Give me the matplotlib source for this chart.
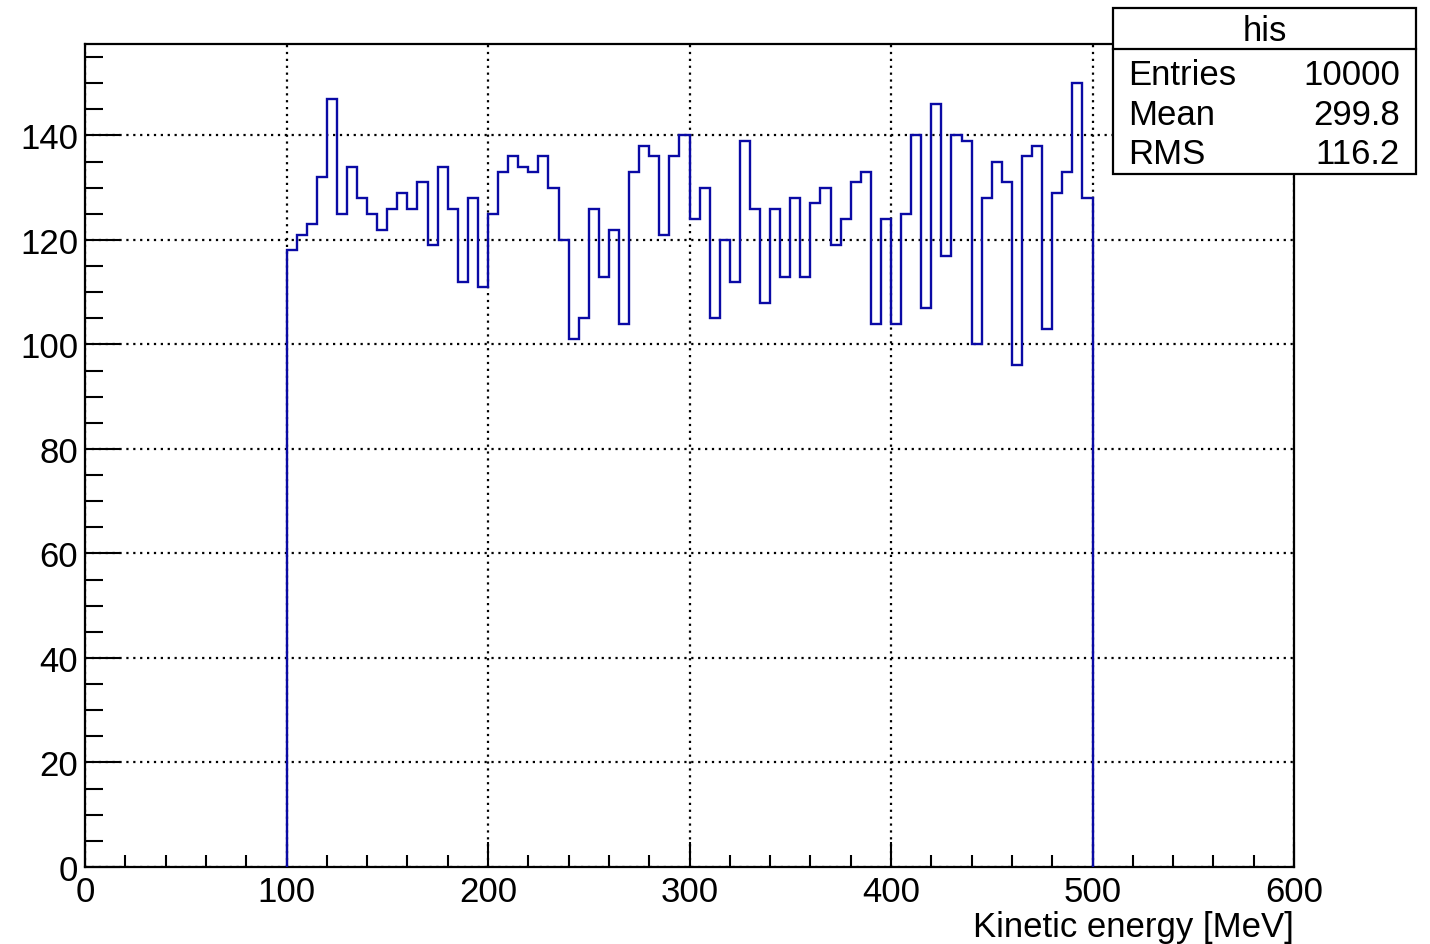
import numpy as np
import matplotlib
matplotlib.use("Agg")
import matplotlib.pyplot as plt
from matplotlib.ticker import MultipleLocator
from matplotlib.patches import Rectangle

# ---- data ----
bin_lo = 100.0
bin_hi = 500.0
n_bins = 80
counts = [118, 121, 123, 132, 147, 125, 134, 128, 125, 122,
          126, 129, 126, 131, 119, 134, 126, 112, 128, 111,
          125, 133, 136, 134, 133, 136, 130, 120, 101, 105,
          126, 113, 122, 104, 133, 138, 136, 121, 136, 140,
          124, 130, 105, 120, 112, 139, 126, 108, 126, 113,
          128, 113, 127, 130, 119, 124, 131, 133, 104, 124,
          104, 125, 140, 107, 146, 117, 140, 139, 100, 128,
          135, 131, 96, 136, 138, 103, 129, 133, 150, 128]
x_label = "Kinetic energy [MeV]"
stats_title = "his"
stats_names = ["Entries", "Mean", "RMS"]
stats_values = ["10000", "299.8", "116.2"]

edges = np.linspace(bin_lo, bin_hi, n_bins + 1)

plt.rcParams['font.family'] = ['Liberation Sans', 'DejaVu Sans']
FS = 25

fig = plt.figure(figsize=(14.3, 9.45), dpi=100)
ax = fig.add_axes([85/1430, 1-868/945, (1294-85)/1430, (868-45)/945])

ax.stairs(counts, edges, baseline=0, fill=False, color='#0a0aa5', linewidth=1.7, zorder=3)

ax.set_xlim(0, 600)
ax.set_ylim(0, 157.5)

ax.xaxis.set_major_locator(MultipleLocator(100))
ax.xaxis.set_minor_locator(MultipleLocator(20))
ax.yaxis.set_major_locator(MultipleLocator(20))
ax.yaxis.set_minor_locator(MultipleLocator(5))

ax.tick_params(axis='both', which='both', direction='in', top=False, right=False,
               labelsize=FS, width=1.5, color='black')
ax.tick_params(axis='x', which='major', length=18, pad=6)
ax.tick_params(axis='x', which='minor', length=9)
ax.tick_params(axis='y', which='major', length=25, pad=5)
ax.tick_params(axis='y', which='minor', length=13)

for s in ax.spines.values():
    s.set_linewidth(1.6)

ax.grid(True, which='major', color='black', linestyle=(0, (1, 2.1)), linewidth=1.6, zorder=1)
ax.set_axisbelow(True)

ax.set_xlabel(x_label, fontsize=FS)
ax.xaxis.set_label_coords(1.0, (868-937)/823)
ax.xaxis.label.set_horizontalalignment('right')
ax.xaxis.label.set_verticalalignment('baseline')

# ---- stats box ----
bx0, bx1 = 1113/1430, 1416/1430
by_top, by_bot = 1-9/945, 1-175/945
by_line = 1-50/945
fig.patches.append(Rectangle((bx0, by_bot), bx1-bx0, by_top-by_bot, transform=fig.transFigure,
                             facecolor='white', edgecolor='black', linewidth=1.6, zorder=10))
fig.add_artist(plt.Line2D([bx0, bx1], [by_line, by_line], transform=fig.transFigure,
                          color='black', linewidth=1.6, zorder=11))
fig.text((bx0+bx1)/2, 1-41/945, stats_title, ha='center', va='baseline', fontsize=FS, zorder=12)
row_y = [85, 125, 164]
for name, val, yy in zip(stats_names, stats_values, row_y):
    fig.text(1128/1430, 1-yy/945, name, ha='left', va='baseline', fontsize=FS, zorder=12)
    fig.text(1400/1430, 1-yy/945, val, ha='right', va='baseline', fontsize=FS, zorder=12)

fig.savefig("out.png", dpi=100)
